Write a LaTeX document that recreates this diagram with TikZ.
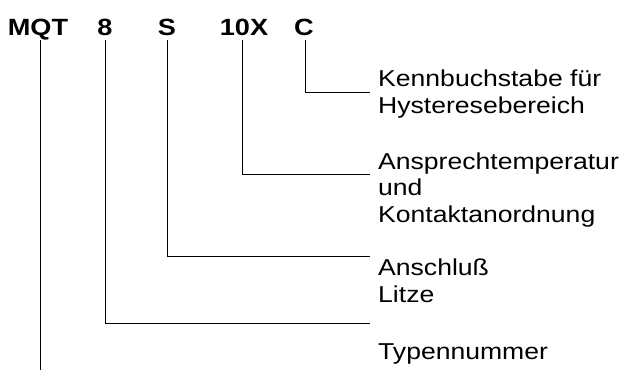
\documentclass[tikz,border=0pt]{standalone}
\usepackage{fontspec}
\setmainfont[FakeStretch=1.155]{Liberation Sans}
\begin{document}
\begin{tikzpicture}[x=1pt,y=-1pt,
  code/.style={font=\fontsize{23.5}{28}\selectfont\bfseries, inner sep=0pt, anchor=base},
  desc/.style={font=\fontsize{23}{26.5}\selectfont, inner sep=0pt, anchor=base west, align=left},
  conn/.style={line width=0.9pt}]
\useasboundingbox (0,0) rectangle (625,370);

% type code
\node[code] (mqt)  at (38,35)  {MQT};
\node[code] (n8)   at (105,35) {8};
\node[code] (ns)   at (167,35) {S};
\node[code] (n10x) at (244,35) {10X};
\node[code] (nc)   at (304,35) {C};

% explanations (placed by the baseline of their last line)
\node[desc] (dC)   at (378,113) {Kennbuchstabe für\\Hysteresebereich};
\node[desc] (d10x) at (378,222) {Ansprechtemperatur\\und\\Kontaktanordnung};
\node[desc] (dS)   at (378,302) {Anschluß\\Litze};
\node[desc] (d8)   at (378,359) {Typennummer};

% line ends
\coordinate (eC)   at (370,92);
\coordinate (e10x) at (370,174);
\coordinate (eS)   at (370,256);
\coordinate (e8)   at (370,323);
\coordinate (eMQT) at (40,370);

% connectors
\draw[conn] ([xshift=1pt,yshift=-5pt]nc.base)    |- (eC);
\draw[conn] ([xshift=-2pt,yshift=-5pt]n10x.base) |- (e10x);
\draw[conn] ([yshift=-5pt]ns.base)               |- (eS);
\draw[conn] ([yshift=-5pt]n8.base)               |- (e8);
\draw[conn] ([xshift=2pt,yshift=-5pt]mqt.base)   -- (eMQT);
\end{tikzpicture}
\end{document}
